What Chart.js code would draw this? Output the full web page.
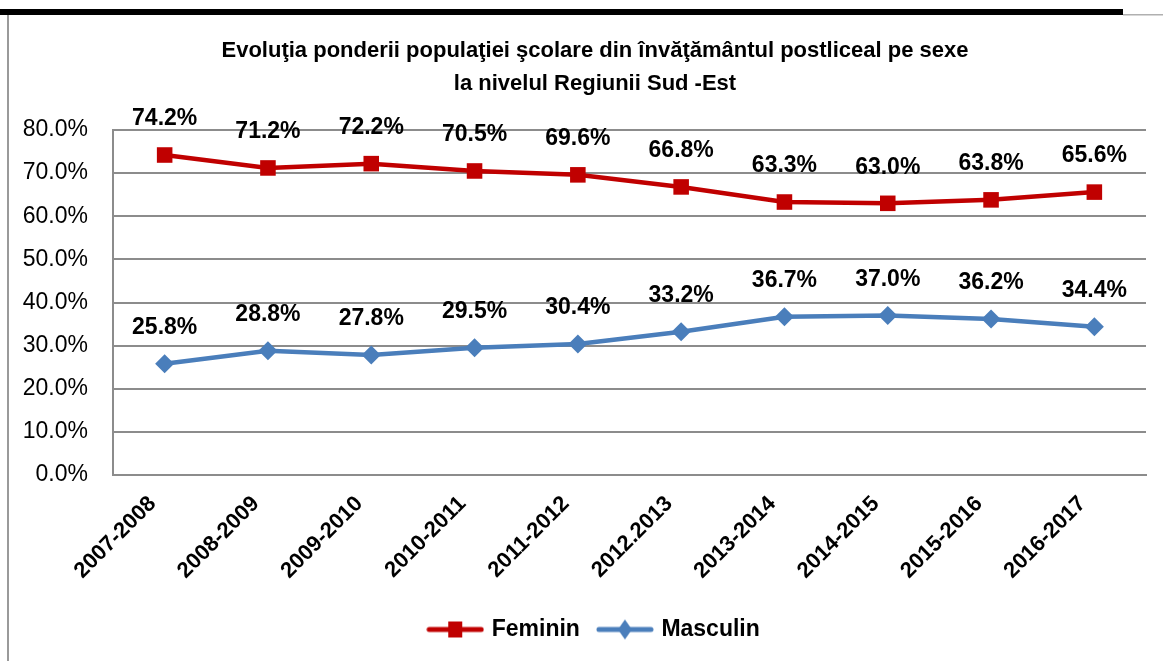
<!DOCTYPE html>
<html>
<head>
<meta charset="utf-8">
<script src="https://cdn.jsdelivr.net/npm/chart.js@4.4.1/dist/chart.umd.min.js"></script>
<style>
  html, body { margin: 0; padding: 0; background: #fff; }
  #wrap { width: 1163px; height: 661px; }
</style>
</head>
<body>
<div id="wrap"><canvas id="grafic"></canvas></div>
<script>
// date
const ani = ['2007-2008', '2008-2009', '2009-2010', '2010-2011', '2011-2012',
             '2012.2013', '2013-2014', '2014-2015', '2015-2016', '2016-2017'];
const feminin = [74.2, 71.2, 72.2, 70.5, 69.6, 66.8, 63.3, 63.0, 63.8, 65.6];
const masculin = [25.8, 28.8, 27.8, 29.5, 30.4, 33.2, 36.7, 37.0, 36.2, 34.4];

const ROSU = '#C00000';
const ALBASTRU = '#4A7EBB';
const GRI = '#8c8c8c';
const FONT = "'Liberation Sans Narrow', 'Arial Narrow', 'Liberation Sans', Arial, sans-serif";

// mic desen pentru legenda: linie + marker
function iconLegenda(culoare, forma) {
    const c = document.createElement('canvas');
    c.width = 58; c.height = 22;
    const ctx = c.getContext('2d');
    ctx.strokeStyle = culoare;
    ctx.lineWidth = 5;
    ctx.lineCap = 'round';
    ctx.beginPath();
    ctx.moveTo(3, 11); ctx.lineTo(55, 11);
    ctx.stroke();
    ctx.fillStyle = culoare;
    if (forma === 'rect') {
        ctx.fillRect(22, 3, 14, 16);
    } else {
        ctx.beginPath();
        ctx.moveTo(29, 1); ctx.lineTo(36, 11); ctx.lineTo(29, 21); ctx.lineTo(22, 11);
        ctx.closePath(); ctx.fill();
    }
    return c;
}

// chenarul paginii (bara neagra sus, linie gri la stanga)
const chenar = {
    id: 'chenar',
    afterLayout(chart) {
        // titlul si legenda sunt putin mai la dreapta in original
        [chart.titleBlock, chart.legend].forEach(b => {
            if (b) { b.left += 12; b.right += 12; }
        });
    },
    beforeDraw(chart) {
        const ctx = chart.ctx;
        ctx.save();
        ctx.fillStyle = '#fff';
        ctx.fillRect(0, 0, chart.width, chart.height);
        ctx.fillStyle = '#000';
        ctx.fillRect(0, 9, 1123, 6);
        ctx.fillStyle = '#b0b0b0';
        ctx.fillRect(1123, 14, 40, 1.5);
        ctx.fillStyle = '#9a9a9a';
        ctx.fillRect(7, 15, 2, chart.height - 15);
        ctx.restore();
    }
};

// etichetele cu valori deasupra punctelor
const etichete = {
    id: 'etichete',
    afterDatasetsDraw(chart) {
        const ctx = chart.ctx;
        ctx.save();
        ctx.font = 'bold 23px ' + FONT;
        ctx.fillStyle = '#000';
        ctx.textAlign = 'center';
        ctx.textBaseline = 'middle';
        chart.data.datasets.forEach((ds, i) => {
            const meta = chart.getDatasetMeta(i);
            meta.data.forEach((pt, j) => {
                ctx.fillText(ds.data[j].toFixed(1) + '%', pt.x, pt.y - 36);
            });
        });
        ctx.restore();
    }
};

const dados = {
    labels: ani,
    datasets: [{
        label: 'Feminin',
        data: feminin,
        borderColor: ROSU,
        backgroundColor: ROSU,
        borderWidth: 4.5,
        pointStyle: 'rect',
        pointRadius: 11,
        pointHoverRadius: 11,
        pointBorderWidth: 0,
        tension: 0
    }, {
        label: 'Masculin',
        data: masculin,
        borderColor: ALBASTRU,
        backgroundColor: ALBASTRU,
        borderWidth: 4.5,
        pointStyle: 'rectRot',
        pointRadius: 9.5,
        pointHoverRadius: 9.5,
        pointBorderWidth: 0,
        tension: 0
    }]
};

const configuracao = {
    type: 'line',
    data: dados,
    plugins: [chenar, etichete],
    options: {
        responsive: true,
        maintainAspectRatio: false,
        animation: false,
        layout: { padding: { left: 20, right: 17, top: 20, bottom: 10 } },
        plugins: {
            title: {
                display: true,
                text: ['Evoluţia ponderii populaţiei şcolare din învăţământul postliceal pe sexe',
                       'la nivelul Regiunii Sud -Est'],
                color: '#000',
                font: { family: FONT, size: 22, weight: 'bold', lineHeight: 1.5 },
                padding: { top: 14, bottom: 30 }
            },
            legend: {
                position: 'bottom',
                labels: {
                    usePointStyle: true,
                    pointStyleWidth: 50,
                    padding: 20,
                    color: '#000',
                    font: { family: FONT, size: 23, weight: 'bold' },
                    generateLabels(chart) {
                        return chart.data.datasets.map((ds, i) => ({
                            text: ds.label,
                            pointStyle: iconLegenda(ds.borderColor, ds.pointStyle),
                            fillStyle: ds.borderColor,
                            strokeStyle: ds.borderColor,
                            lineWidth: 0,
                            fontColor: '#000',
                            datasetIndex: i,
                            hidden: false
                        }));
                    }
                }
            },
            tooltip: { enabled: false }
        },
        scales: {
            x: {
                offset: true,
                grid: { display: false },
                border: { color: GRI, width: 2 },
                ticks: {
                    color: '#000',
                    minRotation: 45,
                    maxRotation: 45,
                    padding: 8,
                    labelOffset: -12,
                    font: { family: FONT, size: 22, weight: 'bold' }
                },
                afterFit(scale) {
                    const leg = scale.chart.legend;
                    scale.height = 661 - 10 - (leg ? leg.height : 48) - 475;
                }
            },
            y: {
                min: 0,
                max: 80,
                grid: { color: GRI, lineWidth: 2, drawTicks: false },
                border: { color: GRI, width: 2 },
                ticks: {
                    stepSize: 10,
                    padding: 25,
                    color: '#000',
                    font: { family: FONT, size: 23 },
                    callback: (v) => v.toFixed(1) + '%'
                },
                afterFit(scale) { scale.width = 93; }
            }
        }
    }
};

new Chart(document.getElementById('grafic'), configuracao);
</script>
</body>
</html>
